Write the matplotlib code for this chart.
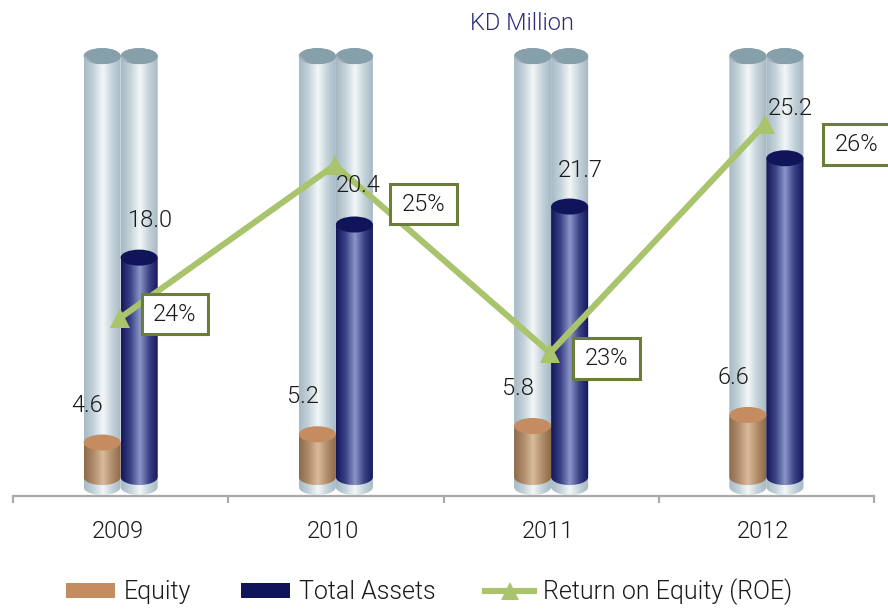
import numpy as np
import matplotlib
matplotlib.use("Agg")
import matplotlib.pyplot as plt
from matplotlib.colors import LinearSegmentedColormap
from matplotlib.lines import Line2D
from matplotlib.patches import Ellipse, Patch
from matplotlib.path import Path
from matplotlib.transforms import ScaledTranslation

plt.rcParams['font.family'] = ['Roboto', 'Liberation Sans', 'DejaVu Sans']
plt.rcParams['font.weight'] = 300

years = ['2009', '2010', '2011', '2012']
equity = [4.6, 5.2, 5.8, 6.6]
total_assets = [18.0, 20.4, 21.7, 25.2]
roe_labels = ['24%', '25%', '23%', '26%']
# the line does not follow the bar scale, so these are its height on that axis
roe_height = [13.6, 24.7, 11.1, 27.7]
background_top = [32.6, 32.6, 32.6, 32.6]

BAR_W = 0.172
CAP_H = 1.16
BG_FLOOR = 1.38
BAR_FLOOR = 2.1

GREEN = '#a9c46c'
BOX_EDGE = '#6a7d3a'
BROWN = '#c48c60'
NAVY = '#10145a'
TEXT = '#1a1a1a'

bg_cmap = LinearSegmentedColormap.from_list('bg', ['#a6b9c4', '#c4d3da', '#f3f7f8', '#c4d3da', '#a4b7c2'])
brown_cmap = LinearSegmentedColormap.from_list('brown', ['#8c6a4c', '#b08c6a', '#dabb9c', '#b08c6a', '#8a6648'])
navy_cmap = LinearSegmentedColormap.from_list('navy', ['#14175a', '#3a4285', '#8c97c9', '#3a4285', '#12155a'])
cap_cmap = LinearSegmentedColormap.from_list('cap', ['#eef3f4', '#8aa0aa', '#86a0ab'])

fig = plt.figure(figsize=(8.88, 6.10), dpi=100)
ax = fig.add_axes([13 / 888, 114 / 610, 861 / 888, 496 / 610])
ax.set_xlim(-0.5, 3.5)
ax.set_ylim(0.725, 36.67)
ax.autoscale(False)


def cylinder(left, top, floor, cmap, cap_color, z):
    # body: straight sides, rounded bottom edge
    t = np.linspace(np.pi, 2 * np.pi, 40)
    cx = left + BAR_W / 2
    xs = cx + BAR_W / 2 * np.cos(t)
    ys = floor + CAP_H / 2 * np.sin(t)
    verts = [(left, top)] + list(zip(xs, ys)) + [(left + BAR_W, top), (left, top)]
    im = ax.imshow(np.linspace(0, 1, 128).reshape(1, -1), cmap=cmap, aspect='auto',
                   extent=(left, left + BAR_W, floor - CAP_H, top), zorder=z)
    im.set_clip_path(Path(verts), ax.transData)
    ax.add_patch(Ellipse((cx, top), BAR_W, CAP_H, facecolor=cap_color, edgecolor='none', zorder=z + 0.1))


def grey_cap(left, top, z):
    cap = Ellipse((left + BAR_W / 2, top), BAR_W, CAP_H, facecolor='none', edgecolor='none', zorder=z)
    ax.add_patch(cap)
    gx, gy = np.meshgrid(np.linspace(0, 1, 64), np.linspace(0, 1, 64))
    shade = np.clip(gx * 1.7 + (1 - gy) * 0.9, 0, 1)
    im = ax.imshow(shade, cmap=cap_cmap, aspect='auto', vmin=0, vmax=1,
                   extent=(left, left + BAR_W, top - CAP_H / 2, top + CAP_H / 2), zorder=z)
    im.set_clip_path(cap)


# callout box is wider than a plain pad would make it
def callout_box(x0, y0, w, h, mutation_size):
    px, py = 11.5, 8.8
    return Path([(x0 - px, y0 - py), (x0 + w + px, y0 - py), (x0 + w + px, y0 + h + py),
                 (x0 - px, y0 + h + py), (x0 - px, y0 - py)], closed=True)


for i in range(len(years)):
    for left in (i - BAR_W, i):
        cylinder(left, background_top[i], BG_FLOOR, bg_cmap, '#87a0aa', 1)
        grey_cap(left, background_top[i], 1.2)
    cylinder(i - BAR_W, equity[i], BAR_FLOOR, brown_cmap, BROWN, 2)
    cylinder(i, total_assets[i], BAR_FLOOR, navy_cmap, NAVY, 2)

x = np.arange(len(years))
ax.plot(x - 0.005, roe_height, color=GREEN, lw=4.4, marker='^', ms=15, mew=0, zorder=4,
        solid_joinstyle='miter', clip_on=False)

# value labels, offsets from the top of each bar
for i, v in enumerate(equity):
    ax.annotate(f'{v:.1f}', (i - BAR_W / 2, v), xytext=(-10.5, 27), textcoords='offset points',
                ha='center', va='center', fontsize=17, color=TEXT, zorder=6)
asset_off = [(8, 27), (3, 28), (7.5, 26), (4, 36)]
for i, v in enumerate(total_assets):
    ax.annotate(f'{v:.1f}', (i + BAR_W / 2, v), xytext=asset_off[i], textcoords='offset points',
                ha='center', va='center', fontsize=17, color=TEXT, zorder=6)

# callouts for the ROE line
box_off = [(39, 3), (63, -28), (40, -4), (65, -15)]
for i, lab in enumerate(roe_labels):
    ax.annotate(lab, (i, roe_height[i]), xytext=box_off[i], textcoords='offset points',
                ha='center', va='center', fontsize=17, color=TEXT, zorder=5,
                bbox=dict(boxstyle=callout_box, fc='white', ec=BOX_EDGE, lw=2.2))

# axis
for s in ('top', 'left', 'right'):
    ax.spines[s].set_visible(False)
ax.spines['bottom'].set_color('#aaaaaa')
ax.spines['bottom'].set_linewidth(1.6)
ax.set_yticks([])
ax.set_xticks(np.arange(-0.5, 4, 1))
ax.set_xticklabels([])
ax.set_xticks(x, minor=True)
ax.set_xticklabels(years, minor=True, fontsize=17, color=TEXT)
ax.tick_params(axis='x', which='major', length=5, width=1.6, color='#aaaaaa')
ax.tick_params(axis='x', which='minor', length=0, pad=17)
for lab in ax.get_xticklabels(minor=True):
    lab.set_transform(lab.get_transform() + ScaledTranslation(-3 / 100, 0, fig.dpi_scale_trans))
ax.patch.set_alpha(0)

fig.text(522 / 888, 1 - 23 / 610, 'KD Million', ha='center', va='center', fontsize=17, color='#2b2d7c')

handles = [Patch(fc=BROWN, ec='none'), Patch(fc=NAVY, ec='none'),
           Line2D([], [], color=GREEN, lw=4.4, marker='^', ms=13, mew=0)]
fig.legend(handles, ['Equity', 'Total Assets', 'Return on Equity (ROE)'], ncol=3, frameon=False,
           loc='center', bbox_to_anchor=(429 / 888, 1 - 592 / 610), fontsize=18,
           handlelength=1.95, handleheight=0.55, handletextpad=0.35, columnspacing=2.0,
           borderpad=0, labelcolor=TEXT)

fig.savefig('out.png', dpi=100)
